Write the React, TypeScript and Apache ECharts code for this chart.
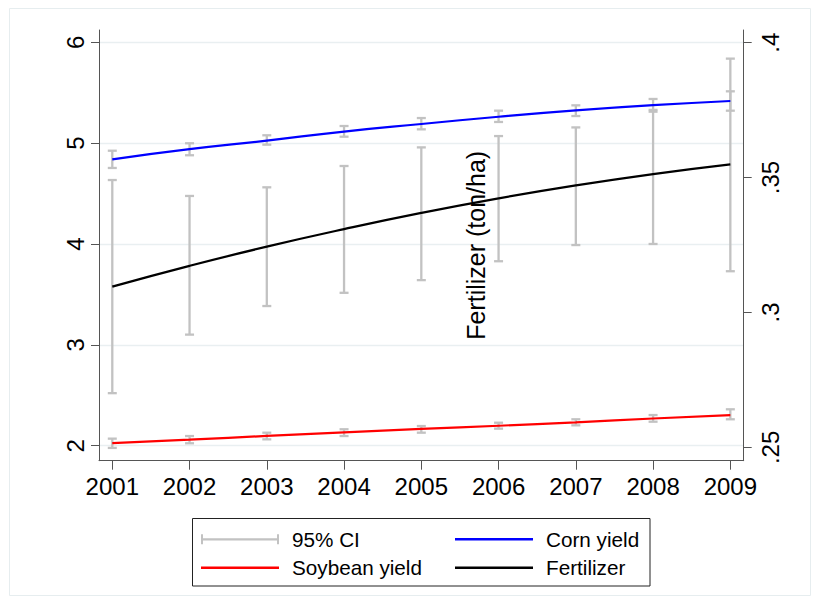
import React, { useEffect, useRef } from "react";
import * as echarts from "echarts";

const years = [2001, 2002, 2003, 2004, 2005, 2006, 2007, 2008, 2009];
const cornYield = [4.84, 4.94, 5.025, 5.115, 5.19, 5.262, 5.325, 5.377, 5.418];
const cornLow = [4.754, 4.88, 4.985, 5.064, 5.137, 5.21, 5.269, 5.312, 5.322];
const cornHigh = [4.925, 4.999, 5.078, 5.17, 5.249, 5.322, 5.375, 5.438, 5.514];
const soyYield = [2.025, 2.06, 2.097, 2.133, 2.166, 2.198, 2.232, 2.27, 2.304];
const soyLow = [1.978, 2.024, 2.063, 2.096, 2.129, 2.169, 2.202, 2.238, 2.262];
const soyHigh = [2.07, 2.096, 2.129, 2.163, 2.195, 2.228, 2.262, 2.304, 2.361];
const fertilizer = [0.3096, 0.3173, 0.3244, 0.3309, 0.3369, 0.3423, 0.3471, 0.3513, 0.3549];
const fertLow = [0.2701, 0.2918, 0.3024, 0.3073, 0.312, 0.319, 0.325, 0.3254, 0.3153];
const fertHigh = [0.3491, 0.3432, 0.3464, 0.3543, 0.3612, 0.3654, 0.3686, 0.3751, 0.3941];
const leftTicks = [2, 3, 4, 5, 6];
const rightTicks = [0.25, 0.3, 0.35, 0.4];

const FONT = "'Liberation Sans', Arial, Helvetica, sans-serif";
const CI_COLOR = "#c2c2c2";
const AXIS_COLOR = "#555555";

function renderCI(params: any, api: any) {
  const x = api.value(0);
  const lo = api.coord([x, api.value(1)]);
  const hi = api.coord([x, api.value(2)]);
  const hw = 4.5;
  const st = { stroke: CI_COLOR, lineWidth: 2.3 };
  return {
    type: "group",
    children: [
      { type: "line", shape: { x1: lo[0], y1: lo[1], x2: hi[0], y2: hi[1] }, style: st },
      { type: "line", shape: { x1: lo[0] - hw, y1: lo[1], x2: lo[0] + hw, y2: lo[1] }, style: st },
      { type: "line", shape: { x1: hi[0] - hw, y1: hi[1], x2: hi[0] + hw, y2: hi[1] }, style: st },
    ],
  };
}

const ciIcon = "path://M0,0 L2,0 L2,3.9 L76,3.9 L76,0 L78,0 L78,10 L76,10 L76,6.1 L2,6.1 L2,10 L0,10 Z";

export default function App() {
  const ref = useRef<HTMLDivElement>(null);
  useEffect(() => {
    if (!ref.current) return;
    const chart = echarts.init(ref.current, null, { renderer: "svg" });
    const legendText = {
      fontSize: 20.7,
      fontFamily: FONT,
      color: "#000",
      lineHeight: 24,
      padding: [0, 0, 0, 8],
    };
    const mkLegend = (name: string, left: number, top: number, icon: string, h: number) => ({
      show: true,
      left,
      top,
      padding: 0,
      itemWidth: 78,
      itemHeight: h,
      textStyle: legendText,
      selectedMode: false,
      data: [{ name, icon }],
    });
    const ciLeftData = years
      .map((y, i) => [y, cornLow[i], cornHigh[i]])
      .concat(years.map((y, i) => [y, soyLow[i], soyHigh[i]]));
    const ciRightData = years.map((y, i) => [y, fertLow[i], fertHigh[i]]);

    chart.setOption({
      animation: false,
      backgroundColor: "#ffffff",
      grid: { left: 99, right: 75.3, top: 30, bottom: 142.3, containLabel: false },
      xAxis: {
        type: "value",
        min: 2000.828,
        max: 2009.173,
        axisLine: { show: true, onZero: false, lineStyle: { color: AXIS_COLOR, width: 1 } },
        axisTick: { show: true, length: 9, customValues: years, lineStyle: { color: AXIS_COLOR } },
        axisLabel: {
          customValues: years,
          formatter: (v: number) => String(v),
          fontSize: 24,
          fontFamily: FONT,
          color: "#000",
          margin: 14,
        },
        splitLine: { show: false },
      },
      yAxis: [
        {
          type: "value",
          position: "left",
          min: 1.8513,
          max: 6.122,
          axisLine: { show: true, lineStyle: { color: AXIS_COLOR, width: 1 } },
          axisTick: { show: true, length: 8, customValues: leftTicks, lineStyle: { color: AXIS_COLOR } },
          axisLabel: {
            customValues: leftTicks,
            rotate: 90,
            fontSize: 24,
            fontFamily: FONT,
            color: "#000",
            margin: 12,
            formatter: (v: number) => String(v),
          },
          splitLine: { show: true, lineStyle: { color: "#e9eff1", width: 1.3 } },
        },
        {
          type: "value",
          position: "right",
          min: 0.24507,
          max: 0.40471,
          name: "Fertilizer (ton/ha)",
          nameLocation: "middle",
          nameRotate: 90,
          nameGap: -280,
          nameTextStyle: { fontSize: 25, fontFamily: FONT, color: "#000" },
          axisLine: { show: true, lineStyle: { color: AXIS_COLOR, width: 1 } },
          axisTick: { show: true, length: 8, customValues: rightTicks, lineStyle: { color: AXIS_COLOR } },
          axisLabel: {
            customValues: rightTicks,
            rotate: 90,
            fontSize: 24,
            fontFamily: FONT,
            color: "#000",
            margin: 15,
            formatter: (v: number) => String(v).replace(/^0/, ""),
          },
          splitLine: { show: false },
        },
      ],
      legend: [
        mkLegend("95% CI", 201, 527.3, ciIcon, 10),
        mkLegend("Corn yield", 455, 527.3, "rect", 2.5),
        mkLegend("Soybean yield", 201, 555.7, "rect", 2.5),
        mkLegend("Fertilizer", 455, 555.7, "rect", 2.5),
      ],
      series: [
        {
          name: "95% CI",
          type: "custom",
          yAxisIndex: 0,
          renderItem: renderCI,
          itemStyle: { color: CI_COLOR },
          encode: { x: 0, y: [1, 2] },
          data: ciLeftData,
          z: 1,
        },
        {
          name: "95% CI",
          type: "custom",
          yAxisIndex: 1,
          renderItem: renderCI,
          itemStyle: { color: CI_COLOR },
          encode: { x: 0, y: [1, 2] },
          data: ciRightData,
          z: 1,
        },
        {
          name: "Corn yield",
          type: "line",
          yAxisIndex: 0,
          smooth: true,
          showSymbol: false,
          itemStyle: { color: "#0000ff" },
          lineStyle: { color: "#0000ff", width: 2.2 },
          data: years.map((y, i) => [y, cornYield[i]]),
          z: 3,
        },
        {
          name: "Soybean yield",
          type: "line",
          yAxisIndex: 0,
          smooth: true,
          showSymbol: false,
          itemStyle: { color: "#ff0000" },
          lineStyle: { color: "#ff0000", width: 2.2 },
          data: years.map((y, i) => [y, soyYield[i]]),
          z: 3,
        },
        {
          name: "Fertilizer",
          type: "line",
          yAxisIndex: 1,
          smooth: true,
          showSymbol: false,
          itemStyle: { color: "#000000" },
          lineStyle: { color: "#000000", width: 2.2 },
          data: years.map((y, i) => [y, fertilizer[i]]),
          z: 3,
        },
      ],
      graphic: [
        {
          type: "rect",
          silent: true,
          shape: { x: 9.5, y: 8.5, width: 801, height: 587 },
          style: { fill: "none", stroke: "#e6edef", lineWidth: 1 },
          z: -10,
        },
        {
          type: "rect",
          silent: true,
          shape: { x: 192.5, y: 518.5, width: 457.5, height: 67.5 },
          style: { fill: "none", stroke: "#222", lineWidth: 1 },
        },
      ],
    });
    return () => chart.dispose();
  }, []);
  return (
    <div
      ref={ref}
      style={{ position: "fixed", left: 0, top: 0, width: 819, height: 603 }}
    />
  );
}
